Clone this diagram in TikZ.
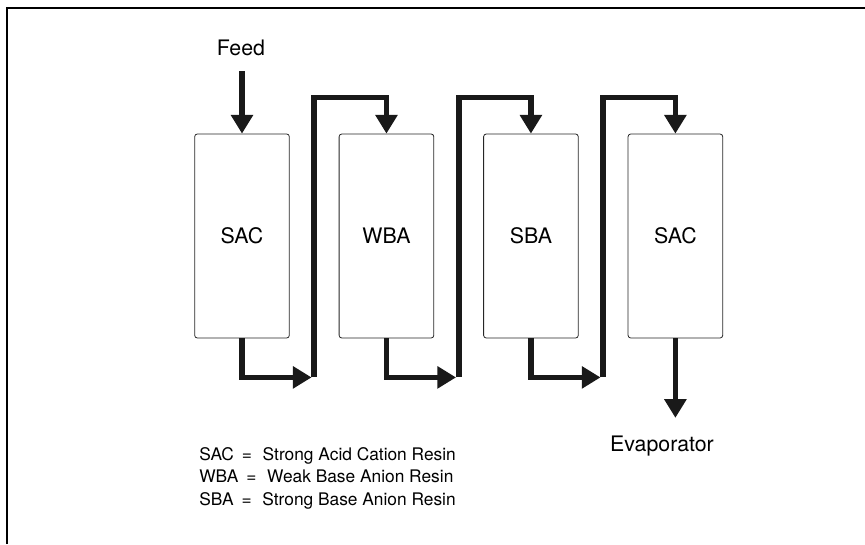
\documentclass[tikz,border=0pt]{standalone}
\usepackage{fontspec}
\setmainfont{TeX Gyre Heros}
\usetikzlibrary{arrows.meta, positioning, calc}
\tikzset{
  col/.style  ={rectangle, rounded corners=2pt, draw=black!85, line width=0.6pt,
                minimum width=71pt, minimum height=153pt, inner sep=0pt,
                font=\fontsize{16}{19}\selectfont},
  pipe/.style ={draw=black!90, line width=4.2pt},
  flow/.style ={pipe, -{Triangle[length=14pt,width=16pt]}},
  lbl/.style  ={font=\fontsize{16}{19}\selectfont},
  key/.style  ={align=left, inner sep=0pt, font=\fontsize{13}{17}\selectfont},
}
\newcommand{\eqgap}{\hspace{6pt}=\hspace{8pt}}
\begin{document}
\begin{tikzpicture}[x=0.75pt, y=-0.75pt, node distance=36.75pt]
\useasboundingbox (0,0) rectangle (865,544);
\draw[line width=1.2pt] (7,544) -- (7,8) -- (865,8);
% columns
\node[col] (sac1) at (242,236) {SAC};
\node[col, right=of sac1] (wba) {WBA};
\node[col, right=of wba] (sba) {SBA};
\node[col, right=of sba] (sac2) {SAC};
\node[lbl] (feed) at (241,48) {Feed};
\node[lbl] (evap) at (662,446) {Evaporator};
% turn points between columns
\coordinate (r1) at ($(sac1.south east)!.5!(wba.south west) + (0,39)$);
\coordinate (r2) at ($(wba.south east)!.5!(sba.south west) + (0,39)$);
\coordinate (r3) at ($(sba.south east)!.5!(sac2.south west) + (0,39)$);
\draw[flow, shorten <=8pt] (feed.south -| sac1.north) -- (sac1.north);
\draw[flow, shorten >=2pt] (sac1.south) |- (r1);
\draw[flow] (r1) |- ($(wba.north)+(0,-36)$) -- (wba.north);
\draw[flow, shorten >=2pt] (wba.south) |- (r2);
\draw[flow] (r2) |- ($(sba.north)+(0,-36)$) -- (sba.north);
\draw[flow, shorten >=2pt] (sba.south) |- (r3);
\draw[flow] (r3) |- ($(sac2.north)+(0,-36)$) -- (sac2.north);
\draw[flow, shorten >=10pt] (sac2.south) -- (sac2.south |- evap.north);
% legend
\node[key, anchor=north west] (legend) at (199,447)
  {SAC\eqgap Strong Acid Cation Resin\\
   WBA\eqgap Weak Base Anion Resin\\
   SBA\eqgap Strong Base Anion Resin};
\end{tikzpicture}
\end{document}
